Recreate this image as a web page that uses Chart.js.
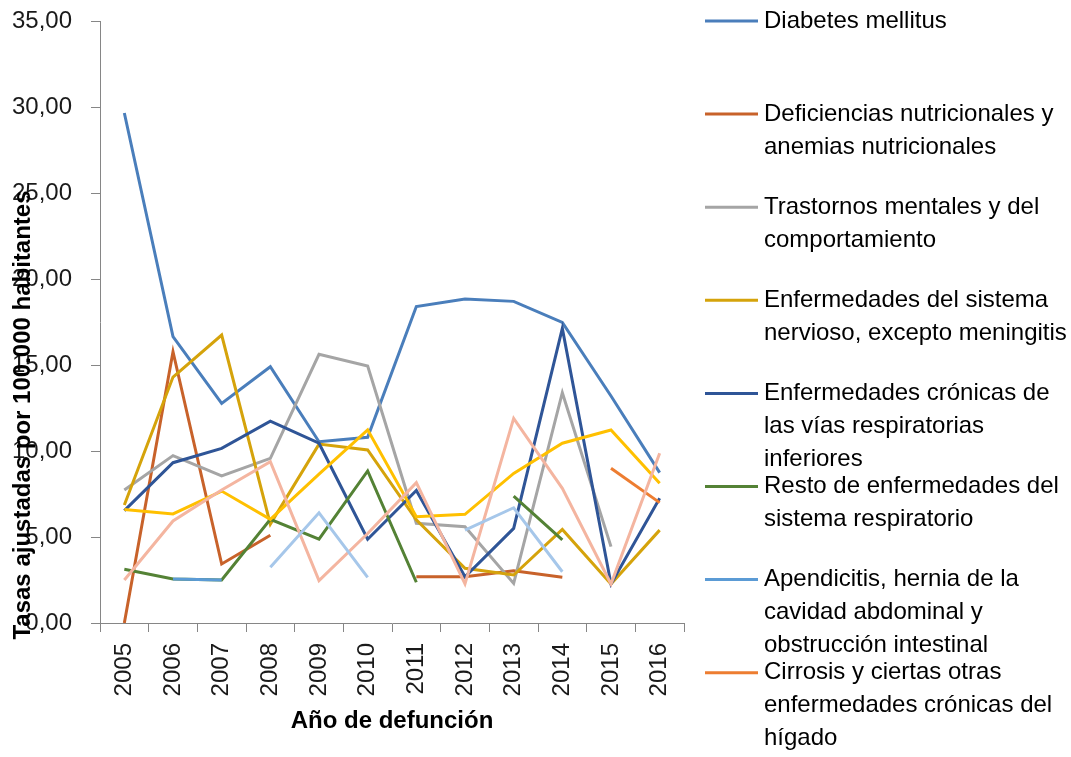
<!DOCTYPE html>
<html>
<head>
<meta charset="utf-8">
<script src="https://cdn.jsdelivr.net/npm/chart.js@4/dist/chart.umd.min.js"></script>
<style>
html,body{margin:0;padding:0;background:#fff;}
canvas{display:block;}
</style>
</head>
<body>
<canvas id="c" width="1071" height="757"></canvas>
<script>
const years = ['2005','2006','2007','2008','2009','2010','2011','2012','2013','2014','2015','2016'];

const seriesNames = [
  'Diabetes mellitus',
  'Deficiencias nutricionales y\nanemias nutricionales',
  'Trastornos mentales y del\ncomportamiento',
  'Enfermedades del sistema\nnervioso, excepto meningitis',
  'Enfermedades crónicas de\nlas vías respiratorias\ninferiores',
  'Resto de enfermedades del\nsistema respiratorio',
  'Apendicitis, hernia de la\ncavidad abdominal y\nobstrucción intestinal',
  'Cirrosis y ciertas otras\nenfermedades crónicas del\nhígado',
  'Serie 9',
  'Serie 10',
  'Serie 11'
];

const diabetes      = [29.65, 16.65, 12.77, 14.90, 10.54, 10.80, 18.40, 18.84, 18.70, 17.48, 13.20, 8.74];
const deficiencias  = [0.00, 15.77, 3.43, 5.10, null, null, 2.69, 2.69, 3.04, 2.66, null, null];
const trastornos    = [7.73, 9.73, 8.55, 9.57, 15.62, 14.94, 5.80, 5.60, 2.30, 13.39, 4.44, null];
const nervioso      = [6.86, 14.30, 16.74, 5.75, 10.40, 10.06, 6.00, 3.18, 2.79, 5.44, 2.27, 5.40];
const cronicas      = [6.53, 9.32, 10.15, 11.74, 10.45, 4.87, 7.70, 2.69, 5.50, 17.13, 2.27, 7.25];
const restoResp     = [3.12, 2.56, 2.50, 6.03, 4.88, 8.84, 2.37, null, 7.38, 4.83, null, null];
const apendicitis   = [null, 2.56, 2.50, null, null, null, null, null, null, null, null, null];
const cirrosis      = [null, null, null, null, null, null, null, null, null, null, 9.00, 7.00];
const serie9        = [6.60, 6.34, 7.67, 6.03, 8.65, 11.23, 6.18, 6.32, 8.70, 10.45, 11.22, 8.12];
const serie10       = [2.50, 5.93, 7.73, 9.38, 2.46, 5.20, 8.16, 2.27, 11.90, 7.83, 2.27, 9.87];
const serie11       = [null, null, null, 3.24, 6.41, 2.65, null, 5.40, 6.70, 2.98, null, null];

const yTicks = ['0,00','5,00','10,00','15,00','20,00','25,00','30,00','35,00'];

const colors = ['#4A7EBB','#C8622A','#A5A5A5','#D5A30B','#2F5597','#548235','#5B9BD5','#ED7D31','#FFC000','#F4B5A0','#A6C7EA'];
const allSeries = [diabetes, deficiencias, trastornos, nervioso, cronicas, restoResp, apendicitis, cirrosis, serie9, serie10, serie11];

const FONT = '"Liberation Sans", Arial, sans-serif';
const legendCount = 8;

const datasets = allSeries.map((d, i) => ({
  label: seriesNames[i].replace(/\n/g, ' '),
  data: d,
  borderColor: colors[i],
  backgroundColor: colors[i],
  borderWidth: 3,
  pointRadius: 0,
  pointHoverRadius: 0,
  tension: 0,
  spanGaps: false,
  fill: false,
  order: allSeries.length - i
}));

const decor = {
  id: 'decor',
  afterDraw(chart) {
    const ctx = chart.ctx;
    ctx.save();
    ctx.fillStyle = '#000';
    ctx.font = 'bold 24px ' + FONT;
    ctx.textAlign = 'center';
    ctx.textBaseline = 'middle';
    ctx.translate(23, 415);
    ctx.rotate(-Math.PI / 2);
    ctx.fillText('Tasas ajustadas por 100.000 habitantes', 0, 0);
    ctx.restore();

    ctx.save();
    ctx.fillStyle = '#000';
    ctx.font = 'bold 24px ' + FONT;
    ctx.textAlign = 'center';
    ctx.textBaseline = 'middle';
    ctx.fillText('Año de defunción', 392, 721);
    ctx.restore();

    ctx.save();
    for (let i = 0; i < legendCount; i++) {
      const y = 21 + i * 93.1;
      ctx.strokeStyle = colors[i];
      ctx.lineWidth = 3;
      ctx.beginPath();
      ctx.moveTo(705, y);
      ctx.lineTo(758, y);
      ctx.stroke();
      ctx.fillStyle = '#000';
      ctx.font = '24px ' + FONT;
      ctx.textAlign = 'left';
      ctx.textBaseline = 'middle';
      seriesNames[i].split('\n').forEach((ln, k) => {
        ctx.fillText(ln, 764, y + k * 33);
      });
    }
    ctx.restore();
  }
};

new Chart(document.getElementById('c'), {
  type: 'line',
  data: { labels: years, datasets },
  options: {
    responsive: false,
    devicePixelRatio: 1,
    animation: false,
    layout: { padding: { left: 0, right: 387, top: 21, bottom: 0 } },
    plugins: { legend: { display: false }, tooltip: { enabled: false }, title: { display: false } },
    scales: {
      x: {
        offset: true,
        grid: { offset: true, drawOnChartArea: false, drawTicks: true, tickLength: 9, color: '#868686' },
        border: { color: '#868686', width: 1 },
        ticks: { minRotation: 90, maxRotation: 90, padding: 11, color: '#1a1a1a', font: { family: FONT, size: 24 }, autoSkip: false },
        afterFit(s) { s.height = 134; }
      },
      y: {
        min: 0, max: 35,
        grid: { drawOnChartArea: false, drawTicks: true, tickLength: 9, color: '#868686' },
        border: { color: '#868686', width: 1 },
        ticks: {
          stepSize: 5, padding: 19, color: '#1a1a1a', font: { family: FONT, size: 24, lineHeight: 0.05 },
          callback(v) { return yTicks[Math.round(v / 5)]; }
        },
        afterFit(s) { s.width = 100; }
      }
    }
  },
  plugins: [decor]
});
</script>
</body>
</html>
